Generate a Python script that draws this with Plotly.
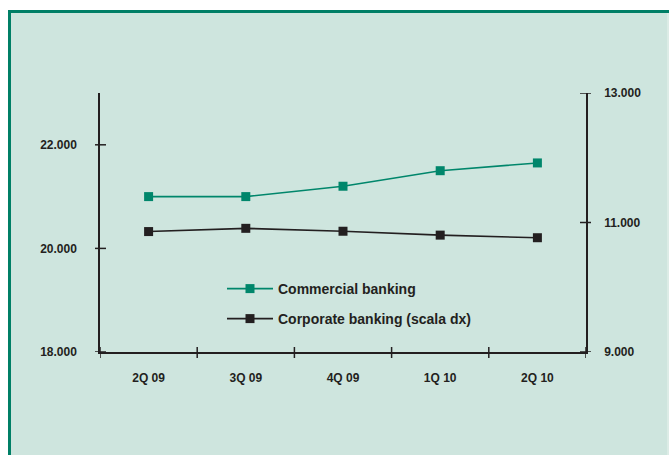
import plotly.graph_objects as go

# Quarterly volumes (left axis: commercial, right axis: corporate)
quarters = ["2Q 09", "3Q 09", "4Q 09", "1Q 10", "2Q 10"]
commercial = [21000, 21000, 21200, 21500, 21650]
corporate = [10860, 10910, 10865, 10805, 10765]

left_ticks = [18000, 20000, 22000]
right_ticks = [9000, 11000, 13000]

W, H = 669, 455
ML, MR, MT, MB = 100, 83, 93, 103
PW, PH = W - ML - MR, H - MT - MB

GREEN = "#00866b"
INK = "#231f20"
BG = "#cee5de"
BORDER = "#007f66"
FONT = "Liberation Sans, Arial, sans-serif"


def px_x(x):
    return (x - ML) / PW


def px_y(y):
    return (H - MB - y) / PH


def band(x0, x1, y0, y1, color, layer="below"):
    # filled rectangle given in page pixels, placed in paper coordinates
    return dict(type="rect", xref="paper", yref="paper", layer=layer,
                x0=px_x(x0), x1=px_x(x1), y0=px_y(y1), y1=px_y(y0),
                fillcolor=color, line=dict(width=0))


fig = go.Figure()
fig.add_trace(go.Scatter(
    x=quarters, y=commercial, name="Commercial banking", mode="lines+markers",
    line=dict(color=GREEN, width=1.6),
    marker=dict(symbol="square", size=9, color=GREEN),
    legend="legend", showlegend=True,
))
fig.add_trace(go.Scatter(
    x=quarters, y=corporate, name="Corporate banking (scala dx)", mode="lines+markers",
    line=dict(color=INK, width=1.6),
    marker=dict(symbol="square", size=9, color=INK),
    yaxis="y2", legend="legend2", showlegend=True,
))

shapes = []
# crossing tick marks on the left axis
for v in left_ticks:
    shapes.append(dict(type="line", xref="paper", xsizemode="pixel", xanchor=0,
                       x0=-5, x1=6, yref="y", y0=v, y1=v,
                       line=dict(color=INK, width=1.5)))
# crossing tick marks on the right axis
for v in right_ticks:
    shapes.append(dict(type="line", xref="paper", xsizemode="pixel", xanchor=1,
                       x0=-6, x1=5, yref="y2", y0=v, y1=v,
                       line=dict(color=INK, width=1.5)))
# category boundary ticks on the x axis
for b in [i + 0.5 for i in range(-1, len(quarters))]:
    shapes.append(dict(type="line", xref="x", x0=b, x1=b, yref="paper",
                       ysizemode="pixel", yanchor=0, y0=-6, y1=5,
                       line=dict(color=INK, width=1.5)))

# panel: white strips at top and left, teal frame on those two sides
shapes.append(band(0, W, 0, 10, "white"))
shapes.append(band(0, 8, 0, H, "white"))
shapes.append(band(8, W, 10, 13, BORDER))
shapes.append(band(8, 11, 10, H, BORDER))
# pale seam along the right edge of the panel
shapes.append(band(W - 2, W, 13, H, "#dcece6", layer="above"))

tickfont = dict(family=FONT, size=12, color=INK, weight="bold")
legfont = dict(family=FONT, size=14, color=INK, weight="bold")

fig.update_layout(
    width=W, height=H,
    margin=dict(l=ML, r=MR, t=MT, b=MB, pad=0),
    paper_bgcolor=BG, plot_bgcolor="rgba(0,0,0,0)",
    separators=",.",
    showlegend=True,
    font=dict(family=FONT, color=INK),
    shapes=shapes,
    xaxis=dict(
        type="category", range=[-0.5, len(quarters) - 0.5],
        showgrid=False, zeroline=False, ticks="",
        showline=True, linecolor=INK, linewidth=1.5,
        tickfont=tickfont, ticklabelstandoff=14,
    ),
    yaxis=dict(
        range=[18000, 23000], tickvals=left_ticks, tickformat=",.0f",
        showgrid=False, zeroline=False, ticks="",
        showline=True, linecolor=INK, linewidth=1.5,
        tickfont=tickfont, ticklabelstandoff=19,
    ),
    yaxis2=dict(
        range=[9000, 13000], tickvals=right_ticks, tickformat=",.0f",
        overlaying="y", side="right",
        showgrid=False, zeroline=False, ticks="",
        showline=True, linecolor=INK, linewidth=1.5,
        tickfont=tickfont, ticklabelstandoff=14,
    ),
    legend=dict(
        x=px_x(222), y=px_y(289), xanchor="left", yanchor="middle",
        bgcolor="rgba(0,0,0,0)", borderwidth=0, itemwidth=46,
        font=legfont, visible=True,
    ),
    legend2=dict(
        x=px_x(222), y=px_y(319), xanchor="left", yanchor="middle",
        bgcolor="rgba(0,0,0,0)", borderwidth=0, itemwidth=46,
        font=legfont, visible=True,
    ),
)

fig.write_html("out.html")
